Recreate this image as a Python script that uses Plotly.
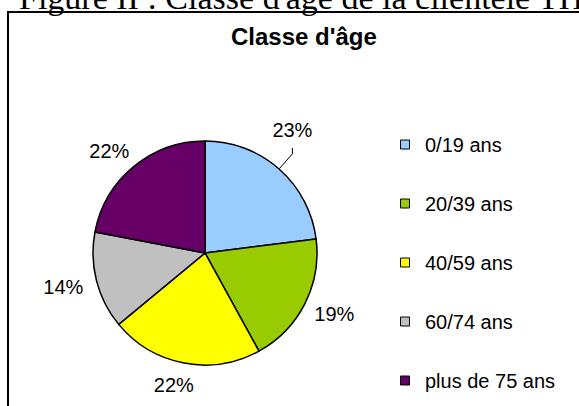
import math
import plotly.graph_objects as go

# ── Data ─────────────────────────────────────────────────────────────────────
AGE_GROUPS = ["0/19 ans", "20/39 ans", "40/59 ans", "60/74 ans", "plus de 75 ans"]
SHARES = [23, 19, 22, 14, 22]
COLORS = ["#99CCFF", "#99CC00", "#FFFF00", "#C0C0C0", "#660066"]
LEADER = [True, False, False, False, False]   # label dragged out with a leader line

TITLE = "Classe d'âge"
CAPTION = "Figure II : Classe d'âge de la clientèle TH"

# ── Layout constants (pixels) ────────────────────────────────────────────────
W, H = 579, 406
CX, CY, R = 205, 253, 112
FONT = "Liberation Sans, Arial, sans-serif"


def fx(p):
    return p / W


def fy(p):
    return 1 - p / H


fig = go.Figure()

fig.add_trace(go.Pie(
    labels=AGE_GROUPS,
    values=SHARES,
    sort=False,
    direction="clockwise",
    rotation=0,
    marker=dict(colors=COLORS, line=dict(color="black", width=1.5)),
    textinfo="none",
    showlegend=False,
    domain=dict(x=[fx(CX - R), fx(CX + R)], y=[fy(CY + R), fy(CY - R)]),
    hoverinfo="label+percent",
))

# ── Percentage labels around the pie (angles from the data) ─────────────────
total = sum(SHARES)
lab_x, lab_y, lab_t = [], [], []
lead_x, lead_y = [], []
acc = 0
for v, lead in zip(SHARES, LEADER):
    th = 2 * math.pi * (acc + v / 2) / total
    s, c = math.sin(th), math.cos(th)
    if lead:
        ax, ay = CX + R * s, CY - R * c
        bx, by = CX + 1.18 * R * s, CY - 1.18 * R * c
        lead_x += [ax, bx, bx, None]
        lead_y += [ay, by, by - 6, None]
        lab_x.append(bx)
        lab_y.append(by - 22)
    else:
        lab_x.append(CX + 1.1 * R * s + 22 * s - 4 * abs(c) * (s < 0))
        lab_y.append(CY - 1.1 * R * c - 10 * c + 3)
    lab_t.append(f"{round(100 * v / total)}%")
    acc += v

fig.add_trace(go.Scatter(
    x=lead_x, y=lead_y, mode="lines", showlegend=False, hoverinfo="skip",
    line=dict(color="black", width=1),
))
fig.add_trace(go.Scatter(
    x=lab_x, y=lab_y, text=lab_t, mode="text", textposition="middle center",
    showlegend=False, hoverinfo="skip",
    textfont=dict(family=FONT, size=20, color="black"),
))

# legend built from dummy traces so the items can be spaced out
for name, col in zip(AGE_GROUPS, COLORS):
    fig.add_trace(go.Scatter(
        x=[None], y=[None], mode="markers", name=name, legendgroup=name,
        marker=dict(symbol="square", size=9, color=col,
                    line=dict(color="black", width=1)),
    ))

fig.add_annotation(text=f"<b>{TITLE}</b>", x=fx(304), y=fy(37),
                   xref="paper", yref="paper", showarrow=False,
                   xanchor="center", yanchor="middle",
                   font=dict(family=FONT, size=24, color="black"))

# page caption, cut off at the top like the source scan
fig.add_annotation(text=CAPTION, x=fx(17), y=fy(18),
                   xref="paper", yref="paper", showarrow=False,
                   xanchor="left", yanchor="bottom",
                   font=dict(family="Liberation Serif, Times New Roman, serif",
                             size=34, color="black"))

# chart frame
fig.add_shape(type="rect", xref="paper", yref="paper",
              x0=fx(8), x1=fx(600), y0=fy(430), y1=fy(12),
              line=dict(color="black", width=2))

fig.update_layout(
    width=W, height=H,
    margin=dict(l=0, r=0, t=0, b=0),
    paper_bgcolor="white",
    plot_bgcolor="rgba(0,0,0,0)",
    xaxis=dict(visible=False, range=[0, W], domain=[0, 1], fixedrange=True),
    yaxis=dict(visible=False, range=[H, 0], domain=[0, 1], fixedrange=True),
    showlegend=True,
    legend=dict(x=fx(385), y=fy(125), xanchor="left", yanchor="top",
                tracegroupgap=30, bgcolor="rgba(0,0,0,0)",
                font=dict(family=FONT, size=20, color="black")),
)

fig.write_html("out.html", config={"displayModeBar": False},
               post_script="document.body.style.margin='0';")
